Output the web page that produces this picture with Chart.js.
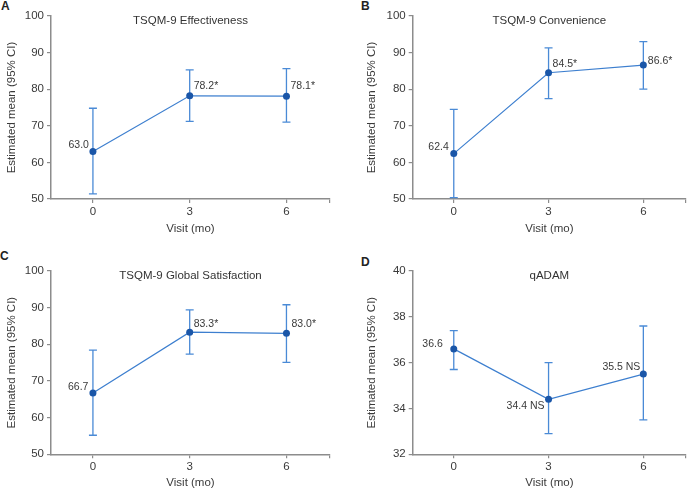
<!DOCTYPE html>
<html><head><meta charset="utf-8">
<script src="https://cdn.jsdelivr.net/npm/chart.js@4/dist/chart.umd.min.js"></script>
<style>
html,body{margin:0;padding:0;background:#fff;width:690px;height:490px;overflow:hidden;font-family:"Liberation Sans",Arial,sans-serif;}
canvas{position:absolute;}
.lbl{position:absolute;font-weight:bold;font-size:12px;line-height:12px;color:#222;}
</style></head><body>
<div class="lbl" style="left:1px;top:0px;">A</div>
<div class="lbl" style="left:361px;top:0px;">B</div>
<div class="lbl" style="left:0px;top:250px;">C</div>
<div class="lbl" style="left:361px;top:256px;">D</div>
<canvas id="cA" width="345" height="245" style="left:0;top:0"></canvas>
<canvas id="cB" width="345" height="245" style="left:345px;top:0"></canvas>
<canvas id="cC" width="345" height="245" style="left:0;top:245px"></canvas>
<canvas id="cD" width="345" height="245" style="left:345px;top:245px"></canvas>
<script>
// ---- data ----
const visits = [0, 3, 6];
const xTickValues = [0, 3, 6];

const effMean = [63.0, 78.2, 78.1];
const effLow  = [51.4, 71.2, 71.0];
const effHigh = [74.8, 85.3, 85.6];
const effLabels = ['63.0', '78.2*', '78.1*'];

const convMean = [62.4, 84.5, 86.6];
const convLow  = [50.4, 77.4, 80.0];
const convHigh = [74.5, 91.3, 93.0];
const convLabels = ['62.4', '84.5*', '86.6*'];

const globMean = [66.7, 83.3, 83.0];
const globLow  = [55.2, 77.3, 75.1];
const globHigh = [78.4, 89.4, 90.8];
const globLabels = ['66.7', '83.3*', '83.0*'];

const adamMean = [36.6, 34.4, 35.5];
const adamLow  = [35.7, 32.9, 33.5];
const adamHigh = [37.4, 36.0, 37.6];
const adamLabels = ['36.6', '34.4 NS', '35.5 NS'];

const tsqmTicks = [50, 60, 70, 80, 90, 100];
const adamTicks = [32, 34, 36, 38, 40];

// ---- styles ----
const FONT = '"Liberation Sans", Arial, sans-serif';
const AXIS = '#8c8c8c';
const TEXT = '#3a3a3a';
const LINE = '#3d7fcf';
const DOT = '#1a56a8';
const ERR = '#4a8ad6';
const X_MIN = -1.3, X_MAX = 7.35;

const errorBars = {
  id: 'errorBars',
  beforeDatasetsDraw(chart, args, opts) {
    const ctx = chart.ctx, xs = chart.scales.x, ys = chart.scales.y;
    ctx.save();
    ctx.strokeStyle = ERR; ctx.lineWidth = 1.3;
    opts.low.forEach((lo, i) => {
      const x = xs.getPixelForValue(visits[i]);
      const y1 = ys.getPixelForValue(lo), y2 = ys.getPixelForValue(opts.high[i]);
      ctx.beginPath();
      ctx.moveTo(x, y1); ctx.lineTo(x, y2);
      ctx.moveTo(x - 4, y1); ctx.lineTo(x + 4, y1);
      ctx.moveTo(x - 4, y2); ctx.lineTo(x + 4, y2);
      ctx.stroke();
    });
    ctx.restore();
  },
  afterDatasetsDraw(chart, args, opts) {
    const ctx = chart.ctx, xs = chart.scales.x, ys = chart.scales.y, ca = chart.chartArea;
    ctx.save();
    ctx.fillStyle = TEXT;
    ctx.font = '10.5px ' + FONT;
    ctx.textBaseline = 'middle';
    opts.labels.forEach((t, i) => {
      const x = xs.getPixelForValue(visits[i]);
      const y = ys.getPixelForValue(opts.mean[i]);
      const p = opts.place[i];
      ctx.textAlign = p[0] < 0 ? 'right' : 'left';
      ctx.fillText(t, x + p[0], y + p[1]);
    });
    ctx.font = '11.5px ' + FONT;
    ctx.textAlign = 'center';
    ctx.fillStyle = '#333';
    ctx.fillText(opts.title, (ca.left + ca.right) / 2, ca.top + 5);
    ctx.restore();
  }
};

function makeChart(id, cfg) {
  new Chart(document.getElementById(id), {
    type: 'line',
    data: { datasets: [{
      data: visits.map((v, i) => ({ x: v, y: cfg.mean[i] })),
      borderColor: LINE, borderWidth: 1.2, tension: 0,
      pointRadius: 3.5, pointBackgroundColor: DOT, pointBorderWidth: 0
    }]},
    options: {
      responsive: false, animation: false, devicePixelRatio: 1,
      layout: { padding: cfg.pad },
      plugins: {
        legend: { display: false }, tooltip: { enabled: false },
        errorBars: { low: cfg.low, high: cfg.high, mean: cfg.mean, labels: cfg.labels, place: cfg.place, title: cfg.title }
      },
      scales: {
        x: {
          type: 'linear', min: X_MIN, max: X_MAX,
          afterBuildTicks: s => { s.ticks = xTickValues.concat([X_MAX]).map(v => ({ value: v })); },
          afterFit: s => { s.height = cfg.xH; },
          ticks: { color: TEXT, font: { size: 11.5, family: FONT }, padding: 2, maxRotation: 0,
                   callback: v => xTickValues.includes(v) ? String(v) : '' },
          grid: { drawOnChartArea: false, drawTicks: true, tickLength: 4, color: AXIS, lineWidth: 1.2 },
          border: { display: true, color: AXIS, width: 1.5 },
          title: { display: true, text: 'Visit (mo)', color: TEXT, font: { size: 11.5, family: FONT }, padding: { top: 0, bottom: cfg.xTitlePad } }
        },
        y: {
          min: cfg.yTicks[0], max: cfg.yTicks[cfg.yTicks.length - 1],
          afterBuildTicks: s => { s.ticks = cfg.yTicks.map(v => ({ value: v })); },
          afterFit: s => { s.width = cfg.yW; },
          ticks: { color: TEXT, font: { size: 11.5, family: FONT }, padding: 3 },
          grid: { drawOnChartArea: false, drawTicks: true, tickLength: 4, color: AXIS, lineWidth: 1.2 },
          border: { display: true, color: AXIS, width: 1.5 },
          title: { display: true, text: 'Estimated mean (95% CI)', color: TEXT, font: { size: 11.5, family: FONT }, padding: { top: 4, bottom: 0 } }
        }
      }
    },
    plugins: [errorBars]
  });
}

makeChart('cA', { mean: effMean, low: effLow, high: effHigh, labels: effLabels, title: 'TSQM-9 Effectiveness',
  yTicks: tsqmTicks, pad: { left: 1, top: 16, right: 15, bottom: 0 }, yW: 50, xH: 46, xTitlePad: 9,
  place: [[-4, -6], [4, -10], [4, -10]] });
makeChart('cB', { mean: convMean, low: convLow, high: convHigh, labels: convLabels, title: 'TSQM-9 Convenience',
  yTicks: tsqmTicks, pad: { left: 16, top: 16, right: 2, bottom: 0 }, yW: 51.7, xH: 46, xTitlePad: 9,
  place: [[-5, -7], [4, -9], [4.5, -4]] });
makeChart('cC', { mean: globMean, low: globLow, high: globHigh, labels: globLabels, title: 'TSQM-9 Global Satisfaction',
  yTicks: tsqmTicks, pad: { left: 1, top: 26, right: 15, bottom: 0 }, yW: 50, xH: 35.7, xTitlePad: 0,
  place: [[-4.5, -6], [4, -8], [5, -9]] });
makeChart('cD', { mean: adamMean, low: adamLow, high: adamHigh, labels: adamLabels, title: 'qADAM',
  yTicks: adamTicks, pad: { left: 16, top: 26, right: 2, bottom: 0 }, yW: 51.7, xH: 35.7, xTitlePad: 0,
  place: [[-11, -5], [-4, 7], [-3, -7]] });
</script>
</body></html>
